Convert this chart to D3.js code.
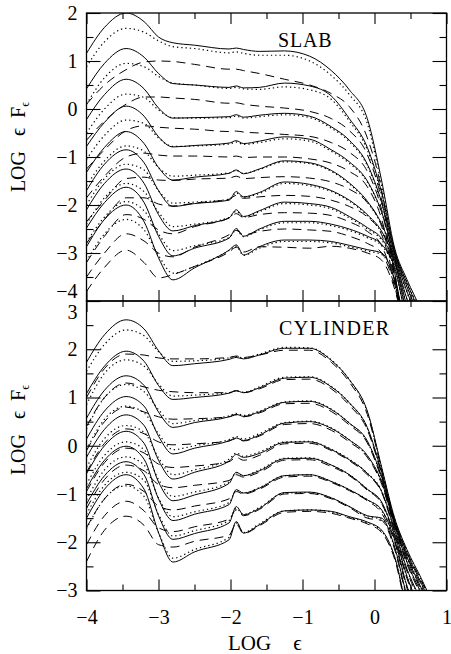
<!DOCTYPE html>
<html><head><meta charset="utf-8">
<script src="https://cdn.jsdelivr.net/npm/d3@7"></script>
<style>
body{margin:0;background:#fff}
text{font-family:"Liberation Serif","Times New Roman","DejaVu Serif",serif;fill:#000}
</style>
</head><body>
<svg id="chart" width="451" height="654"></svg>
<script>
// log energy sample points shared by every spectrum
const logE = [-4.0, -3.75, -3.45, -3.2, -3.0, -2.8, -2.5, -2.02, -1.92, -1.82, -1.6, -1.25, -0.9, -0.6, -0.35, -0.1, 0.1, 0.28, 0.45, 0.65, 0.85];

// SLAB geometry: log(eps F_eps) for each model
const slabSolid = [
  [1.16, 1.7, 2.0, 1.82, 1.5, 1.38, 1.33, 1.25, 1.27, 1.24, 1.2, 1.21, 1.1, 0.8, 0.4, -0.2, -1.5, -2.9, -3.55, -4.2, -5],
  [0.42, 0.95, 1.26, 1.08, 0.74, 0.53, 0.5, 0.45, 0.48, 0.44, 0.45, 0.54, 0.48, 0.27, -0.2, -0.8, -1.75, -2.95, -3.62, -4.3, -5],
  [-0.22, 0.3, 0.62, 0.42, 0.02, -0.19, -0.18, -0.16, -0.12, -0.17, -0.13, -0.09, -0.15, -0.37, -0.65, -1.15, -1.95, -3.0, -3.7, -4.4, -5],
  [-0.78, -0.28, 0.06, -0.15, -0.58, -0.79, -0.76, -0.71, -0.66, -0.72, -0.67, -0.58, -0.63, -0.85, -1.1, -1.5, -2.15, -3.05, -3.8, -4.5, -5],
  [-1.32, -0.8, -0.47, -0.72, -1.22, -1.48, -1.42, -1.34, -1.27, -1.35, -1.25, -1.08, -1.12, -1.28, -1.54, -1.92, -2.4, -3.1, -3.95, -4.6, -5],
  [-1.7, -1.15, -0.85, -1.12, -1.7, -2.03, -1.97, -1.9, -1.72, -1.83, -1.74, -1.52, -1.57, -1.7, -1.9, -2.2, -2.55, -3.15, -4.1, -4.8, -5],
  [-2.1, -1.55, -1.25, -1.55, -2.2, -2.54, -2.43, -2.27, -2.1, -2.24, -2.12, -1.94, -1.97, -2.05, -2.24, -2.47, -2.7, -3.2, -4.25, -4.9, -5],
  [-2.48, -1.95, -1.63, -1.95, -2.65, -3.06, -2.9, -2.69, -2.49, -2.65, -2.5, -2.34, -2.34, -2.4, -2.5, -2.65, -2.82, -3.3, -4.4, -5, -5],
  [-2.87, -2.3, -2.0, -2.35, -3.1, -3.56, -3.31, -2.94, -2.83, -3.04, -2.87, -2.73, -2.73, -2.76, -2.84, -2.93, -3.0, -3.55, -4.6, -5.2, -5.5]
];
const slabDotted = [
  [0.88, 1.4, 1.68, 1.6, 1.42, 1.3, 1.26, 1.17, 1.19, 1.16, 1.12, 1.12, 1.0, 0.7, 0.3, -0.3, -1.6, -2.95, -3.6, -4.25, -5],
  [0.1, 0.65, 0.95, 0.88, 0.68, 0.54, 0.5, 0.43, 0.45, 0.42, 0.41, 0.46, 0.4, 0.2, -0.25, -0.85, -1.8, -2.98, -3.65, -4.3, -5],
  [-0.5, 0.0, 0.31, 0.24, -0.02, -0.18, -0.19, -0.18, -0.15, -0.19, -0.16, -0.12, -0.18, -0.4, -0.68, -1.18, -1.98, -3.02, -3.72, -4.4, -5],
  [-1.05, -0.55, -0.23, -0.3, -0.6, -0.78, -0.77, -0.73, -0.69, -0.74, -0.7, -0.62, -0.67, -0.88, -1.13, -1.52, -2.17, -3.07, -3.82, -4.5, -5],
  [-1.6, -1.08, -0.77, -0.88, -1.22, -1.4, -1.38, -1.33, -1.28, -1.34, -1.26, -1.1, -1.14, -1.3, -1.56, -1.94, -2.42, -3.12, -3.97, -4.6, -5],
  [-2.0, -1.45, -1.15, -1.27, -1.7, -1.96, -1.94, -1.88, -1.75, -1.84, -1.76, -1.55, -1.6, -1.72, -1.92, -2.22, -2.58, -3.18, -4.1, -4.8, -5],
  [-2.4, -1.85, -1.55, -1.72, -2.15, -2.45, -2.4, -2.26, -2.13, -2.25, -2.14, -1.97, -2.0, -2.08, -2.27, -2.5, -2.73, -3.22, -4.25, -4.9, -5],
  [-2.78, -2.25, -1.93, -2.12, -2.6, -2.95, -2.85, -2.68, -2.52, -2.66, -2.52, -2.37, -2.37, -2.43, -2.53, -2.68, -2.85, -3.32, -4.4, -5, -5],
  [-3.17, -2.6, -2.3, -2.52, -3.05, -3.42, -3.28, -2.95, -2.86, -3.05, -2.9, -2.76, -2.76, -2.79, -2.87, -2.96, -3.03, -3.57, -4.6, -5.2, -5.5]
];
const slabDashed = [
  [0.1, 0.5, 0.82, 0.98, 1.0, 0.99, 0.93, 0.83, 0.83, 0.8, 0.74, 0.62, 0.5, 0.32, 0.05, -0.6, -1.7, -3.4, -4.8, -5.5, -6],
  [-0.65, -0.25, 0.1, 0.25, 0.25, 0.23, 0.2, 0.12, 0.13, 0.1, 0.06, 0.02, -0.05, -0.2, -0.45, -0.95, -1.9, -3.4, -4.8, -5.5, -6],
  [-1.25, -0.85, -0.45, -0.35, -0.38, -0.4, -0.42, -0.47, -0.46, -0.48, -0.5, -0.53, -0.57, -0.7, -0.9, -1.3, -2.1, -3.45, -4.8, -5.5, -6],
  [-1.85, -1.4, -1.0, -0.92, -0.96, -0.98, -0.98, -1.0, -0.98, -1.01, -1.0, -1.0, -1.04, -1.13, -1.3, -1.62, -2.3, -3.5, -4.8, -5.5, -6],
  [-2.35, -1.9, -1.45, -1.42, -1.48, -1.49, -1.46, -1.44, -1.4, -1.45, -1.43, -1.41, -1.44, -1.52, -1.67, -1.95, -2.45, -3.55, -4.8, -5.5, -6],
  [-2.8, -2.3, -1.85, -1.85, -1.98, -2.02, -1.96, -1.88, -1.8, -1.86, -1.83, -1.8, -1.82, -1.9, -2.03, -2.25, -2.62, -3.6, -4.8, -5.5, -6],
  [-3.2, -2.65, -2.2, -2.3, -2.52, -2.6, -2.45, -2.27, -2.18, -2.26, -2.2, -2.16, -2.17, -2.22, -2.35, -2.55, -2.85, -3.65, -4.8, -5.5, -6],
  [-3.5, -3.0, -2.6, -2.75, -3.0, -3.08, -2.88, -2.62, -2.53, -2.62, -2.55, -2.5, -2.52, -2.55, -2.65, -2.8, -3.0, -3.7, -4.8, -5.5, -6],
  [-3.8, -3.3, -2.94, -3.2, -3.52, -3.45, -3.28, -2.98, -2.88, -2.98, -2.87, -2.88, -2.9, -2.86, -2.9, -3.0, -3.15, -3.75, -4.8, -5.5, -6]
];

// CYLINDER geometry
const cylSolid = [
  [1.73, 2.3, 2.61, 2.42, 1.97, 1.66, 1.7, 1.79, 1.83, 1.8, 1.88, 2.02, 2.02, 1.77, 1.37, 0.72, -0.45, -1.5, -2.15, -2.75, -3.4],
  [1.08, 1.65, 1.96, 1.75, 1.25, 0.96, 1.0, 1.09, 1.14, 1.1, 1.2, 1.4, 1.42, 1.22, 0.89, 0.38, -0.55, -1.55, -2.22, -2.85, -3.5],
  [0.57, 1.15, 1.45, 1.25, 0.7, 0.38, 0.48, 0.6, 0.65, 0.61, 0.7, 0.9, 0.92, 0.75, 0.47, 0.1, -0.65, -1.6, -2.3, -2.95, -3.55],
  [0.14, 0.72, 1.02, 0.82, 0.2, -0.17, -0.05, 0.1, 0.16, 0.11, 0.22, 0.47, 0.5, 0.36, 0.12, -0.2, -0.75, -1.65, -2.4, -3.05, -3.6],
  [-0.24, 0.34, 0.64, 0.42, -0.3, -0.69, -0.55, -0.32, -0.18, -0.24, -0.16, 0.07, 0.08, -0.08, -0.29, -0.57, -0.95, -1.75, -2.55, -3.2, -3.7],
  [-0.58, 0.0, 0.3, 0.05, -0.75, -1.14, -1.02, -0.78, -0.55, -0.62, -0.52, -0.27, -0.26, -0.4, -0.6, -0.9, -1.17, -1.85, -2.7, -3.4, -3.8],
  [-0.89, -0.3, -0.01, -0.28, -1.1, -1.55, -1.42, -1.22, -0.91, -0.98, -0.88, -0.62, -0.6, -0.74, -0.91, -1.12, -1.33, -1.95, -2.9, -3.6, -3.9],
  [-1.21, -0.62, -0.33, -0.6, -1.45, -1.94, -1.82, -1.6, -1.26, -1.43, -1.3, -0.97, -0.96, -1.08, -1.26, -1.45, -1.5, -2.1, -3.1, -3.8, -4],
  [-1.5, -0.9, -0.6, -0.9, -1.8, -2.41, -2.2, -1.95, -1.57, -1.81, -1.64, -1.35, -1.33, -1.36, -1.47, -1.58, -1.75, -2.3, -3.35, -4, -4]
];
const cylDotted = [
  [1.54, 2.1, 2.4, 2.28, 1.95, 1.75, 1.76, 1.82, 1.85, 1.82, 1.9, 2.04, 2.03, 1.78, 1.37, 0.7, -0.48, -1.52, -2.17, -2.78, -3.42],
  [0.85, 1.5, 1.78, 1.65, 1.28, 1.03, 1.05, 1.1, 1.14, 1.11, 1.22, 1.42, 1.43, 1.23, 0.89, 0.36, -0.57, -1.57, -2.24, -2.87, -3.52],
  [0.35, 1.0, 1.27, 1.12, 0.75, 0.46, 0.52, 0.62, 0.67, 0.63, 0.72, 0.91, 0.93, 0.76, 0.47, 0.08, -0.67, -1.62, -2.32, -2.97, -3.57],
  [-0.08, 0.55, 0.82, 0.68, 0.25, -0.08, 0.0, 0.13, 0.19, 0.14, 0.25, 0.48, 0.51, 0.37, 0.12, -0.22, -0.77, -1.67, -2.42, -3.07, -3.62],
  [-0.45, 0.15, 0.42, 0.28, -0.25, -0.6, -0.5, -0.28, -0.15, -0.22, -0.13, 0.08, 0.09, -0.07, -0.28, -0.57, -0.94, -1.77, -2.57, -3.22, -3.72],
  [-0.8, -0.2, 0.08, -0.08, -0.7, -1.05, -0.96, -0.75, -0.56, -0.62, -0.5, -0.26, -0.25, -0.4, -0.6, -0.9, -1.19, -1.87, -2.72, -3.42, -3.9],
  [-1.12, -0.5, -0.23, -0.4, -1.08, -1.47, -1.37, -1.18, -0.93, -0.98, -0.87, -0.62, -0.6, -0.74, -0.91, -1.12, -1.35, -1.97, -2.92, -3.6, -4],
  [-1.42, -0.82, -0.55, -0.72, -1.42, -1.87, -1.76, -1.55, -1.3, -1.42, -1.28, -0.98, -0.97, -1.08, -1.26, -1.47, -1.52, -2.12, -3.12, -3.8, -4],
  [-1.72, -1.1, -0.83, -1.05, -1.8, -2.33, -2.15, -1.9, -1.6, -1.8, -1.62, -1.35, -1.33, -1.37, -1.48, -1.6, -1.77, -2.32, -3.37, -4, -4]
];
const cylDashed = [
  [1.0, 1.6, 1.9, 1.88, 1.82, 1.8, 1.8, 1.83, 1.86, 1.83, 1.88, 1.98, 1.98, 1.73, 1.32, 0.65, -0.5, -1.55, -2.2, -2.8, -3.45],
  [0.4, 1.0, 1.3, 1.22, 1.15, 1.12, 1.1, 1.1, 1.14, 1.1, 1.18, 1.37, 1.38, 1.18, 0.84, 0.33, -0.6, -1.6, -2.27, -2.9, -3.55],
  [-0.1, 0.5, 0.8, 0.7, 0.6, 0.55, 0.56, 0.6, 0.64, 0.6, 0.68, 0.87, 0.88, 0.71, 0.43, 0.06, -0.7, -1.65, -2.35, -3.0, -3.6],
  [-0.55, 0.05, 0.35, 0.25, 0.08, 0.02, 0.04, 0.1, 0.15, 0.1, 0.2, 0.44, 0.46, 0.32, 0.08, -0.24, -0.8, -1.7, -2.45, -3.1, -3.65],
  [-0.95, -0.35, -0.05, -0.15, -0.38, -0.45, -0.42, -0.33, -0.24, -0.3, -0.2, 0.04, 0.05, -0.1, -0.31, -0.6, -0.97, -1.8, -2.6, -3.25, -3.75],
  [-1.3, -0.7, -0.4, -0.52, -0.8, -0.87, -0.82, -0.72, -0.6, -0.65, -0.55, -0.3, -0.29, -0.43, -0.62, -0.92, -1.2, -1.9, -2.75, -3.45, -4],
  [-1.7, -1.1, -0.8, -0.95, -1.25, -1.33, -1.25, -1.1, -0.95, -1.0, -0.9, -0.65, -0.63, -0.76, -0.93, -1.14, -1.4, -2.0, -2.95, -3.65, -4],
  [-2.05, -1.45, -1.15, -1.35, -1.7, -1.78, -1.68, -1.52, -1.33, -1.45, -1.32, -1.0, -0.99, -1.1, -1.28, -1.5, -1.55, -2.15, -3.15, -3.85, -4],
  [-2.4, -1.75, -1.46, -1.65, -2.05, -2.1, -1.98, -1.85, -1.62, -1.82, -1.66, -1.38, -1.36, -1.4, -1.5, -1.62, -1.8, -2.35, -3.4, -4, -4]
];

const xTicks = [-4, -3, -2, -1, 0, 1];
const slabTicks = [-4, -3, -2, -1, 0, 1, 2];
const cylTicks = [-3, -2, -1, 0, 1, 2, 3];

const svg = d3.select("#chart");
const L = 86.5, R = 446.5;
const x = d3.scaleLinear().domain([-4, 1]).range([L, R]);
const FONT = "Liberation Serif, Times New Roman, DejaVu Serif, serif";

const panels = [
  {name: "SLAB", top: 13, bottom: 301, domain: [-4, 2], ticks: slabTicks,
   solid: slabSolid, dotted: slabDotted, dashed: slabDashed, lx: 278, ly: 47, ty: 147},
  {name: "CYLINDER", top: 301, bottom: 590.5, domain: [-3, 3], ticks: cylTicks,
   solid: cylSolid, dotted: cylDotted, dashed: cylDashed, lx: 279, ly: 335, ty: 430}
];

const fmt = v => (v < 0 ? "\u2212" + Math.abs(v) : String(v));

panels.forEach((p, pi) => {
  const y = d3.scaleLinear().domain(p.domain).range([p.bottom, p.top]);
  const clipId = "clip" + pi;
  svg.append("clipPath").attr("id", clipId).append("rect")
    .attr("x", L).attr("y", p.top).attr("width", R - L).attr("height", p.bottom - p.top);

  const g = svg.append("g").attr("clip-path", `url(#${clipId})`);
  const line = d3.line().x((d, i) => x(logE[i])).y(d => y(d)).curve(d3.curveMonotoneX);

  const styles = [
    {data: p.dashed, dash: "9,6", w: 1},
    {data: p.dotted, dash: "1.3,3", w: 1.2},
    {data: p.solid, dash: null, w: 1}
  ];
  styles.forEach(s => {
    g.selectAll(null).data(s.data).enter().append("path")
      .attr("d", line).attr("fill", "none").attr("stroke", "#000")
      .attr("stroke-width", s.w).attr("stroke-dasharray", s.dash);
  });

  // frame
  svg.append("rect").attr("x", L).attr("y", p.top).attr("width", R - L)
    .attr("height", p.bottom - p.top).attr("fill", "none").attr("stroke", "#000").attr("stroke-width", 1.3);

  const minorY = d3.range(p.domain[0] + 0.5, p.domain[1], 1);
  const minorX = d3.range(-3.5, 1, 1);

  // left axis carries the value labels
  const left = svg.append("g").attr("transform", `translate(${L},0)`)
    .call(d3.axisLeft(y).tickValues(p.ticks).tickSize(-14).tickPadding(9).tickFormat(fmt));
  // the shared border carries two labels: -4 sits above it, 3 below it
  left.selectAll(".tick text").attr("dy", d => {
    if (pi === 0 && d === -4) return "-0.2em";
    if (pi === 1 && d === 3) return "0.85em";
    return "0.32em";
  });
  svg.append("g").attr("transform", `translate(${L},0)`)
    .call(d3.axisLeft(y).tickValues(minorY).tickSize(-7).tickFormat(""));
  svg.append("g").attr("transform", `translate(${R},0)`)
    .call(d3.axisRight(y).tickValues(p.ticks).tickSize(-14).tickFormat(""));
  svg.append("g").attr("transform", `translate(${R},0)`)
    .call(d3.axisRight(y).tickValues(minorY).tickSize(-7).tickFormat(""));
  svg.append("g").attr("transform", `translate(0,${p.top})`)
    .call(d3.axisTop(x).tickValues(xTicks).tickSize(-11).tickFormat(""));
  svg.append("g").attr("transform", `translate(0,${p.top})`)
    .call(d3.axisTop(x).tickValues(minorX).tickSize(-6).tickFormat(""));
  svg.append("g").attr("transform", `translate(0,${p.bottom})`)
    .call(d3.axisBottom(x).tickValues(xTicks).tickSize(-11).tickPadding(19)
      .tickFormat(pi === 1 ? fmt : ""));
  svg.append("g").attr("transform", `translate(0,${p.bottom})`)
    .call(d3.axisBottom(x).tickValues(minorX).tickSize(-6).tickFormat(""));

  svg.selectAll(".domain").remove();
  svg.selectAll(".tick line").attr("stroke", "#000").attr("stroke-width", 1.1);
  svg.selectAll(".tick text").attr("font-size", 20).attr("font-family", FONT).attr("fill", "#000");

  // panel title
  svg.append("text").attr("x", p.lx).attr("y", p.ly).attr("font-size", 20)
    .attr("letter-spacing", pi === 1 ? 1.3 : 0.8).text(p.name);

  // y title
  const yt = svg.append("text").attr("transform", `translate(25,${p.ty}) rotate(-90)`)
    .attr("text-anchor", "middle").attr("font-size", 20);
  yt.append("tspan").text("LOG");
  yt.append("tspan").attr("dx", 15).text("\u03f5");
  yt.append("tspan").attr("dx", 10).text("F");
  yt.append("tspan").attr("font-size", 12).attr("dy", 4).text("\u03f5");
});

// x title
const xt = svg.append("text").attr("x", 228).attr("y", 650).attr("font-size", 21);
xt.append("tspan").text("LOG");
xt.append("tspan").attr("dx", 22).text("\u03f5");
</script>
</body></html>
